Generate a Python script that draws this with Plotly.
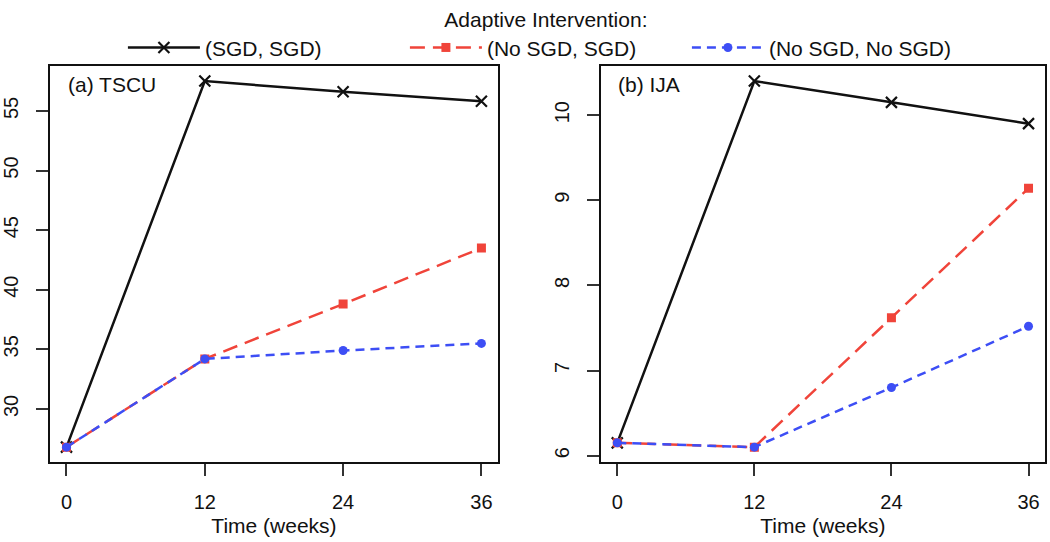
import plotly.graph_objects as go

weeks = [0, 12, 24, 36]
series_names = ["(SGD, SGD)", "(No SGD, SGD)", "(No SGD, No SGD)"]

tscu_sgd_sgd = [26.8, 57.5, 56.6, 55.8]
tscu_nosgd_sgd = [26.8, 34.2, 38.8, 43.5]
tscu_nosgd_nosgd = [26.8, 34.2, 34.9, 35.5]

ija_sgd_sgd = [6.15, 10.4, 10.15, 9.9]
ija_nosgd_sgd = [6.15, 6.1, 7.62, 9.14]
ija_nosgd_nosgd = [6.15, 6.1, 6.8, 7.52]

x_ticks = [0, 12, 24, 36]
tscu_ticks = [30, 35, 40, 45, 50, 55]
ija_ticks = [6, 7, 8, 9, 10]

BLACK = "#111111"
RED = "#F0443A"
BLUE = "#3D4EF5"
FONT = "Liberation Sans, Arial, Helvetica, sans-serif"
FS = 21
TFS = 20

styles = [
    dict(line=dict(color=BLACK, width=2.5),
         marker=dict(symbol="x-thin-open", size=11, color=BLACK, line=dict(width=2.2, color=BLACK))),
    dict(line=dict(color=RED, width=2.5, dash="15px,8px"),
         marker=dict(symbol="square", size=9, color=RED)),
    dict(line=dict(color=BLUE, width=2.5, dash="9px,6px"),
         marker=dict(symbol="circle", size=9, color=BLUE)),
]

fig = go.Figure()

left = [tscu_sgd_sgd, tscu_nosgd_sgd, tscu_nosgd_nosgd]
right = [ija_sgd_sgd, ija_nosgd_sgd, ija_nosgd_nosgd]

for i, (name, ys) in enumerate(zip(series_names, left)):
    fig.add_trace(go.Scatter(x=weeks, y=ys, mode="lines+markers", name=name,
                             legendgroup=name, showlegend=True,
                             xaxis="x", yaxis="y", **styles[i]))
for i, (name, ys) in enumerate(zip(series_names, right)):
    fig.add_trace(go.Scatter(x=weeks, y=ys, mode="lines+markers", name=name,
                             legendgroup=name, showlegend=False,
                             xaxis="x2", yaxis="y2", **styles[i]))

def yr(vals):
    lo, hi = min(vals), max(vals)
    d = (hi - lo) * 0.04
    return [lo - d, hi + d]

xrange_ = [-1.44, 37.44]

axis_common = dict(
    showline=True, mirror=True, linecolor=BLACK, linewidth=1.5,
    ticks="outside", ticklen=12, tickwidth=1.5, tickcolor="#333333",
    showgrid=False, zeroline=False,
    tickfont=dict(family=FONT, size=TFS, color=BLACK),
)

fig.update_layout(
    width=1050, height=542,
    margin=dict(l=0, r=0, t=0, b=0),
    paper_bgcolor="white", plot_bgcolor="white",
    font=dict(family=FONT, size=FS, color=BLACK),
    xaxis=dict(domain=[0.0457, 0.4733], range=xrange_, tickvals=x_ticks,
               ticklabelstandoff=9,
               title=dict(text="Time (weeks)", font=dict(family=FONT, size=FS), standoff=7),
               anchor="y", **axis_common),
    yaxis=dict(domain=[0.1494, 0.8856], range=yr(tscu_sgd_sgd + tscu_nosgd_sgd + tscu_nosgd_nosgd),
               tickvals=tscu_ticks, tickangle=-90, ticklabelstandoff=10,
               anchor="x", **axis_common),
    xaxis2=dict(domain=[0.5714, 0.9952], range=xrange_, tickvals=x_ticks,
                ticklabelstandoff=9,
                title=dict(text="Time (weeks)", font=dict(family=FONT, size=FS), standoff=7),
                anchor="y2", **axis_common),
    yaxis2=dict(domain=[0.1494, 0.8856], range=yr(ija_sgd_sgd + ija_nosgd_sgd + ija_nosgd_nosgd),
                tickvals=ija_ticks, tickangle=-90, ticklabelstandoff=10,
                anchor="x2", **axis_common),
    legend=dict(
        orientation="h", x=0.519, xanchor="center", y=1.01, yanchor="top",
        title=dict(text="Adaptive Intervention:", side="top center",
                   font=dict(family=FONT, size=FS)),
        font=dict(family=FONT, size=FS, color=BLACK),
        entrywidth=195, entrywidthmode="pixels",
        bgcolor="rgba(0,0,0,0)", itemwidth=72,
    ),
    annotations=[
        dict(text="(a) TSCU", xref="x domain", yref="y domain", x=0.035, y=0.955,
             xanchor="left", yanchor="middle", showarrow=False,
             font=dict(family=FONT, size=FS, color=BLACK)),
        dict(text="(b) IJA", xref="x2 domain", yref="y2 domain", x=0.035, y=0.955,
             xanchor="left", yanchor="middle", showarrow=False,
             font=dict(family=FONT, size=FS, color=BLACK)),
    ],
)

fig.write_html("out.html", config={"displayModeBar": False},
               post_script="document.body.style.margin='0';")
